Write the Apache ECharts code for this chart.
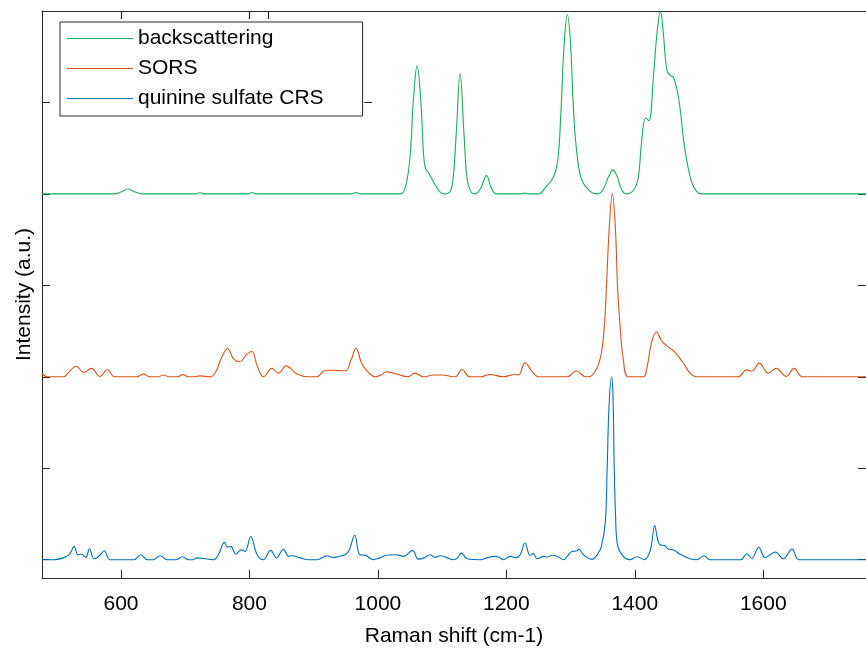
<!DOCTYPE html>
<html>
<head>
<meta charset="utf-8">
<script src="https://cdn.jsdelivr.net/npm/echarts@6/dist/echarts.min.js"></script>
<style>html,body{margin:0;padding:0;background:#fff}#c{width:866px;height:652px}</style>
</head>
<body>
<div id="c"></div>
<script>
// ---- data (Raman shift in cm-1, normalised intensity) ----
const seriesNames = ['backscattering', 'SORS', 'quinine sulfate CRS'];
const seriesColors = ['#13b05a', '#D95319', '#0072BD'];
const seriesOffsets = [2, 1, 0];
const xTickValues = [600, 800, 1000, 1200, 1400, 1600];
const topTickValues = [600, 800, 829];
const yTickValues = [0, 0.5, 1, 1.5, 2, 2.5, 3];
const rightTickValues = [0, 0.5, 1, 1.5, 2];
const strayTickX = 991;
const strayTickY = [2.5, 3];

const backscattering = [
  [477,0],[590,0],[600,0.01],[611,0.027],[622,0.01],[635,0],[715,0],[723,0.006],[732,0],
  [798,0],[804,0.008],[810,0],[958,0],[966,0.008],[974,0],[1035,0],[1043,0.04],[1050,0.2],
  [1055,0.5],[1061,0.70],[1067,0.5],[1071,0.22],[1074,0.14],[1078,0.12],[1083,0.09],[1090,0.045],
  [1097,0.01],[1104,0],[1112,0.01],[1117,0.08],[1122,0.33],[1128,0.66],[1134,0.33],[1139,0.08],
  [1145,0.01],[1151,0],[1160,0.03],[1169,0.10],[1177,0.03],[1185,0],[1222,0],[1229,0.004],[1236,0],
  [1250,0],[1262,0.04],[1273,0.09],[1280,0.18],[1285,0.45],[1290,0.82],[1295,0.98],[1300,0.82],
  [1304,0.5],[1309,0.25],[1317,0.08],[1330,0.015],[1341,0],[1350,0.02],[1360,0.10],[1366,0.13],
  [1372,0.10],[1380,0.02],[1387,0],[1398,0.02],[1405,0.08],[1411,0.3],[1417,0.415],[1422,0.40],
  [1429,0.64],[1435,0.895],[1440,0.995],[1444,0.895],[1450,0.677],[1456,0.645],[1460,0.64],
  [1468,0.53],[1478,0.243],[1488,0.07],[1496,0.015],[1504,0],[1760,0]
];

const sors = [
  [477,0.02],[485,0],[510,0],[520,0.03],[530,0.058],[542,0.024],[554,0.046],[567,0.002],[579,0.04],
  [590,0],[625,0],[635,0.016],[645,0],[658,0],[666,0.01],[675,0],[688,0],[696,0.012],[706,0],
  [716,0],[723,0.005],[739,0],[748,0.03],[756,0.1],[766,0.155],[775,0.1],[785,0.082],[795,0.12],
  [804,0.138],[812,0.06],[822,0],[835,0.046],[845,0.02],[857,0.06],[874,0.015],[892,0],[905,0],
  [915,0.03],[923,0.036],[949,0.033],[958,0.09],[966,0.156],[974,0.08],[980,0.045],[996,0],
  [1005,0.01],[1013,0.027],[1029,0.015],[1047,0],[1058,0.02],[1071,0],[1087,0.01],[1100,0.01],
  [1120,0],[1131,0.04],[1143,0],[1160,0],[1175,0.013],[1195,0],[1214,0.013],[1219,0.01],
  [1229,0.076],[1242,0.02],[1251,0],[1295,0],[1309,0.033],[1320,0.005],[1328,0],[1340,0.04],
  [1348,0.13],[1353,0.3],[1356,0.5],[1360,0.8],[1365,1.0],[1370,0.8],[1373,0.5],[1377,0.28],
  [1382,0.1],[1390,0],[1413,0],[1419,0.05],[1426,0.187],[1434,0.245],[1441,0.2],[1450,0.169],
  [1462,0.136],[1475,0.078],[1486,0.02],[1496,0],[1561,0],[1574,0.038],[1582,0.03],[1594,0.075],
  [1608,0.02],[1620,0.046],[1636,0.002],[1648,0.046],[1661,0],[1760,0]
];

const quinineCRS = [
  [477,0],[495,0],[510,0.01],[520,0.03],[527,0.073],[533,0.027],[538,0.03],[545,0.013],[551,0.06],
  [558,0.005],[566,0.02],[574,0.049],[583,0],[620,0],[631,0.027],[641,0],[650,0],[661,0.022],
  [672,0],[685,0],[696,0.016],[705,0],[712,0],[718,0.01],[744,0],[752,0.03],[761,0.095],[766,0.069],
  [771,0.073],[779,0.031],[787,0.054],[793,0.045],[802,0.127],[812,0.027],[822,0],[833,0.051],
  [842,0.01],[853,0.057],[861,0.018],[866,0.022],[879,0.01],[892,0],[905,0],[921,0.022],[930,0.012],
  [939,0.018],[949,0.027],[955,0.05],[964,0.134],[972,0.027],[980,0.025],[993,0],[1003,0.01],
  [1013,0.024],[1029,0.027],[1040,0.018],[1054,0.051],[1063,0.003],[1072,0.01],[1081,0.027],
  [1089,0.013],[1097,0.022],[1108,0.01],[1118,0],[1124,0.01],[1130,0.036],[1139,0.005],[1160,0],
  [1170,0.01],[1180,0.018],[1188,0.015],[1195,0],[1206,0.018],[1216,0.01],[1222,0.03],[1229,0.091],
  [1237,0.024],[1242,0.033],[1248,0.005],[1258,0.018],[1264,0.015],[1271,0.024],[1281,0.015],
  [1289,0],[1295,0.02],[1302,0.045],[1310,0.049],[1313,0.058],[1320,0.027],[1333,0.002],[1342,0.03],
  [1348,0.073],[1354,0.2],[1357,0.5],[1360,0.85],[1364,1.0],[1366,0.9],[1368,0.5],[1370,0.25],
  [1373,0.082],[1382,0.018],[1392,0],[1404,0.016],[1415,0],[1422,0.03],[1426,0.082],[1431,0.187],
  [1435,0.12],[1439,0.082],[1447,0.076],[1452,0.058],[1460,0.054],[1470,0.031],[1486,0.005],
  [1496,0],[1508,0.022],[1517,0],[1565,0],[1574,0.031],[1582,0.008],[1593,0.067],[1603,0.012],
  [1619,0.042],[1631,0.005],[1645,0.058],[1656,0],[1760,0]
];

const spectra = [backscattering, sors, quinineCRS];

// ---- chart ----
const FONT = "'Liberation Sans', Arial, Helvetica, sans-serif";
const AX = '#262626';
const TICK = 8;
const chart = echarts.init(document.getElementById('c'), null, {renderer: 'canvas'});

const series = spectra.map((pts, i) => ({
  name: seriesNames[i],
  type: 'line',
  xAxisIndex: 0,
  yAxisIndex: 0,
  data: pts.map(p => [p[0], seriesOffsets[i] + p[1]]),
  symbol: 'none',
  smooth: 0.4,
  lineStyle: {color: seriesColors[i], width: 1.1},
  itemStyle: {color: seriesColors[i]},
  animation: false,
  z: 3 - i
}));

chart.setOption({
  animation: false,
  backgroundColor: '#fff',
  grid: {left: 42, right: -1, top: 11, bottom: 72, containLabel: false},
  legend: {
    data: seriesNames,
    orient: 'vertical',
    left: 60, top: 22,
    padding: [6, 39, 7, 7],
    itemGap: 9,
    itemWidth: 66,
    itemHeight: 1.2,
    icon: 'rect',
    borderColor: AX,
    borderWidth: 1,
    backgroundColor: '#fff',
    textStyle: {fontFamily: FONT, fontSize: 21, color: '#000'}
  },
  xAxis: [{
    type: 'value', position: 'bottom', min: 477, max: 1760,
    axisLine: {show: true, onZero: false, lineStyle: {color: AX, width: 1}},
    axisTick: {show: true, inside: true, length: TICK, lineStyle: {color: AX}, customValues: xTickValues},
    axisLabel: {show: true, color: '#000', fontFamily: FONT, fontSize: 21, margin: 16,
      customValues: xTickValues, formatter: v => String(v)},
    splitLine: {show: false},
    name: 'Raman shift (cm-1)', nameLocation: 'middle', nameGap: 48,
    nameTextStyle: {fontFamily: FONT, fontSize: 21, color: '#000'}
  }, {
    type: 'value', position: 'top', min: 477, max: 1760,
    axisLine: {show: true, onZero: false, lineStyle: {color: AX, width: 1}},
    axisTick: {show: false},
    axisLabel: {show: false},
    splitLine: {show: false}
  }],
  yAxis: [{
    type: 'value', position: 'left', min: -0.1, max: 3,
    axisLine: {show: true, onZero: false, lineStyle: {color: AX, width: 1}},
    axisTick: {show: true, inside: true, length: TICK, lineStyle: {color: AX}, customValues: yTickValues},
    axisLabel: {show: false},
    splitLine: {show: false},
    name: 'Intensity (a.u.)', nameLocation: 'middle', nameRotate: 90, nameGap: 7,
    nameTextStyle: {fontFamily: FONT, fontSize: 21, color: '#000'}
  }, {
    type: 'value', position: 'right', min: -0.1, max: 3,
    axisLine: {show: false, onZero: false},
    axisTick: {show: true, inside: true, length: TICK, lineStyle: {color: AX}, customValues: rightTickValues},
    axisLabel: {show: false},
    splitLine: {show: false}
  }],
  series: series
});

// top-axis tick marks and the two stray tick marks, placed through the chart's own scales
const yTop = Math.round(chart.convertToPixel({yAxisIndex: 0}, 3));
const extra = topTickValues.map(v => {
  const x = Math.round(chart.convertToPixel({xAxisIndex: 0}, v)) + 0.5;
  return {type: 'line', shape: {x1: x, y1: yTop, x2: x, y2: yTop + TICK},
          style: {stroke: AX, lineWidth: 1.2}, z: 100, zlevel: 1, silent: true};
});
const sx = chart.convertToPixel({xAxisIndex: 0}, strayTickX);
strayTickY.forEach(v => {
  const y = Math.round(chart.convertToPixel({yAxisIndex: 0}, v)) + 0.5;
  extra.push({type: 'line', shape: {x1: sx - TICK, y1: y, x2: sx, y2: y},
              style: {stroke: AX, lineWidth: 1}, z: 100, zlevel: 1, silent: true});
});
chart.setOption({graphic: {elements: extra}});
</script>
</body>
</html>
